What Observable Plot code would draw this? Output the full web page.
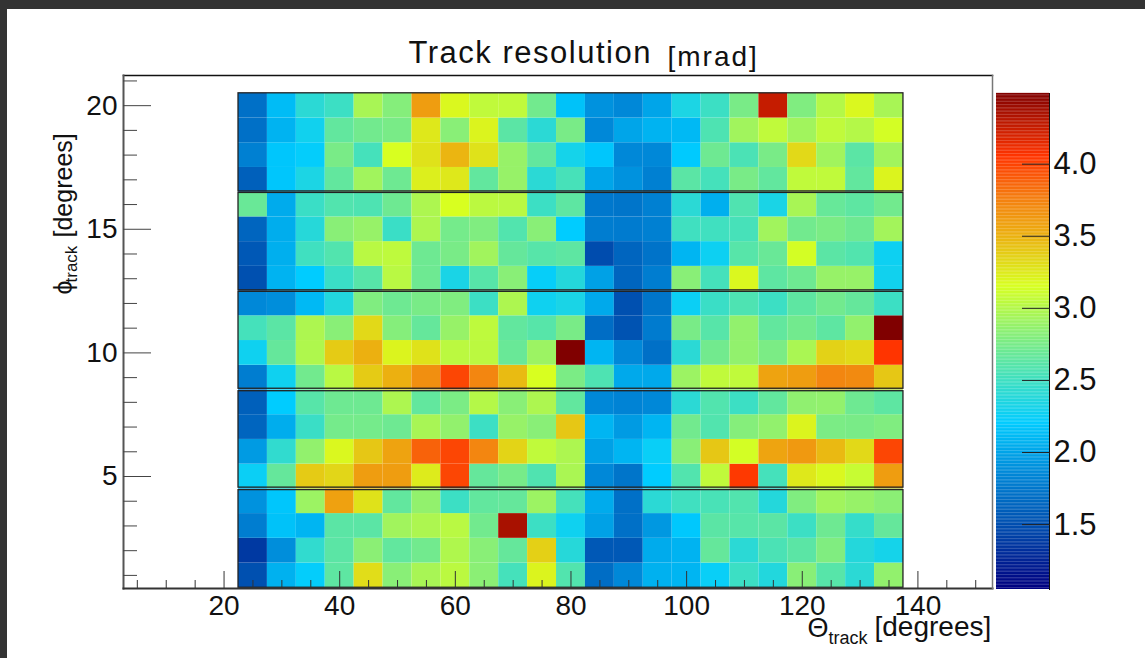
<!DOCTYPE html>
<html><head><meta charset="utf-8">
<script src="https://cdn.jsdelivr.net/npm/d3@7"></script>
<script src="https://cdn.jsdelivr.net/npm/@observablehq/plot@0.6"></script>
<style>
html,body{margin:0;padding:0;width:1145px;height:658px;overflow:hidden;background:#333;}
#paper{position:absolute;left:7px;top:9px;width:1138px;height:649px;background:#fff;}
#chart,#bar{position:absolute;top:0;}
#chart{left:0;}#bar{left:996px;}
svg{background:transparent !important;font-family:"Liberation Sans",Arial,sans-serif;}
.wide text{letter-spacing:1.5px;}
.wider text{letter-spacing:2px;}
</style></head><body>
<div id="paper"></div><div id="chart"></div><div id="bar"></div>
<script>
const thetaBins=[25,30,35,40,45,50,55,60,65,70,75,80,85,90,95,100,105,110,115,120,125,130,135];
const phi20=[1.7,2.12,2.4,2.48,2.95,2.8,3.6,3.18,3.05,3.05,2.72,2.15,1.9,1.85,2.0,2.33,2.48,2.75,4.25,2.78,3.0,3.18,2.95];
const phi19=[1.7,2.07,2.28,2.65,2.72,2.75,3.25,2.82,3.2,2.62,2.4,2.75,1.85,2.0,2.07,2.1,2.56,2.92,3.05,2.92,3.05,3.0,3.13];
const phi18=[1.8,2.17,2.22,2.75,2.52,3.15,3.28,3.48,3.28,2.88,2.65,2.3,2.17,1.85,1.85,2.19,2.7,2.55,2.75,3.32,2.92,2.62,2.92];
const phi17=[1.6,2.17,2.33,2.65,2.92,2.7,3.22,3.25,2.65,2.88,2.4,2.53,2.0,1.9,1.8,2.62,2.52,2.75,2.65,3.05,3.05,2.65,3.2];
const phi16=[2.68,2.03,2.47,2.58,2.56,2.7,2.97,3.15,3.03,3.02,2.48,2.63,1.75,1.73,1.8,2.4,2.05,2.57,2.32,2.95,2.67,2.63,2.72];
const phi15=[1.63,2.04,2.38,2.82,2.88,2.47,2.97,2.73,2.78,2.58,2.82,2.2,1.78,1.77,1.8,2.5,2.5,2.53,2.92,2.72,2.76,2.7,2.93];
const phi14=[1.55,2.05,2.5,2.58,3.02,3.04,2.7,2.75,2.92,2.66,2.6,2.63,1.48,1.63,1.72,2.08,2.26,2.6,2.68,3.13,2.62,2.58,2.26];
const phi13=[1.5,2.07,2.2,2.47,2.6,3.02,2.7,2.32,2.6,2.82,2.23,2.37,1.98,1.63,1.78,2.82,2.52,3.18,2.63,2.7,2.88,2.88,2.28];
const phi12=[1.85,1.88,2.1,2.36,2.78,2.7,2.75,2.78,2.48,2.97,2.27,2.32,2.02,1.5,1.73,2.25,2.47,2.56,2.48,2.63,2.72,2.66,2.48];
const phi11=[2.52,2.62,2.97,2.82,3.32,2.8,2.66,2.88,3.04,2.65,2.6,2.75,1.68,1.52,1.77,2.75,2.6,2.86,2.65,2.72,2.63,2.86,4.49];
const phi10=[2.27,2.66,2.98,3.38,3.5,3.2,3.28,3.03,3.03,2.68,2.9,4.49,2.08,1.85,1.7,2.4,2.72,2.86,2.76,2.96,3.35,3.32,4.05];
const phi9=[1.78,2.27,2.72,3.02,3.38,3.5,3.67,3.98,3.72,3.45,3.15,2.76,2.56,2.02,2.02,2.9,3.05,3.05,3.57,3.6,3.72,3.7,3.4];
const phi8=[1.6,2.2,2.6,2.7,2.7,2.97,2.65,2.76,3.0,2.82,2.97,2.65,1.85,1.82,1.85,2.4,2.58,2.48,2.65,2.85,2.86,2.7,2.63];
const phi7=[1.63,2.04,2.47,2.73,2.73,2.7,2.95,2.86,2.48,2.88,2.82,3.4,2.08,1.95,2.08,2.72,2.58,2.8,2.86,3.2,2.76,2.75,2.78];
const phi6=[1.95,2.43,2.86,3.18,3.4,3.57,3.87,3.98,3.72,3.34,3.05,2.97,1.98,2.08,2.24,2.82,3.4,3.13,3.56,3.62,3.46,3.32,3.98];
const phi5=[2.25,2.66,3.38,3.33,3.6,3.6,3.24,3.98,2.66,2.74,2.57,2.96,1.85,1.73,2.2,2.58,3.05,4.03,2.52,3.25,3.18,3.08,3.6];
const phi4=[1.9,2.17,2.9,3.58,3.28,2.65,2.86,2.48,2.65,2.66,2.9,2.52,2.03,1.7,2.4,2.5,2.54,2.58,2.37,2.78,2.92,2.88,2.83];
const phi3=[1.78,2.15,2.08,2.62,2.62,2.92,2.97,3.02,2.72,4.35,2.48,2.27,1.98,1.7,1.93,2.18,2.62,2.6,2.62,2.48,2.7,2.45,2.66];
const phi2=[1.37,1.88,2.43,2.62,2.83,2.65,2.72,2.98,2.82,2.66,3.36,2.38,1.55,1.55,2.03,2.07,2.66,2.4,2.55,2.62,2.78,2.37,2.3];
const phi1=[1.5,2.06,2.22,2.63,3.3,2.82,2.95,3.03,2.83,2.52,3.2,2.58,1.68,1.85,2.06,2.08,2.24,2.48,2.36,2.82,2.6,2.4,2.86];
const rows=[phi1,phi2,phi3,phi4,phi5,phi6,phi7,phi8,phi9,phi10,phi11,phi12,phi13,phi14,phi15,phi16,phi17,phi18,phi19,phi20];
const sectors=[[0.5,4.45],[4.55,8.45],[8.55,12.47],[12.53,16.47],[16.53,20.5]];
const xMajor=[20,40,60,80,100,120,140];
const xMinor=[5,10,15,25,30,35,45,50,55,65,70,75,85,90,95,105,110,115,125,130,135,145,150];
const yMajor=[5,10,15,20];
const yMinor=[1,2,3,4,6,7,8,9,11,12,13,14,16,17,18,19,21];
const colorStops=[1.05,1.5,1.85,2.2,2.5,2.85,3.15,3.5,3.75,4.05,4.49];
const colorRange=["#000080","#0050b0","#0088d8","#00ccff","#40e0c0","#90f070","#d8ff20","#ecb010","#f48010","#ff3400","#800000"];
const barTicks=[1.5,2,2.5,3,3.5,4];
const barLevels=d3.range(1.05,4.48,0.01);

const cells=rows.flatMap((r,i)=>r.map((v,j)=>({theta:thetaBins[j],phi:i+1,v})));
const color={type:"linear",domain:colorStops,range:colorRange,clamp:true};
const FS=28;

const chart=Plot.plot({
  width:1145,height:658,
  marginLeft:123,marginRight:153,marginTop:75,marginBottom:70,
  style:{background:"transparent",fontFamily:"Liberation Sans,Arial,sans-serif",overflow:"visible"},
  x:{domain:[2.61,152.9],label:null},
  y:{domain:[0.47,21.22],label:null},
  color,
  marks:[
    Plot.rect(cells,{x1:d=>d.theta-2.5,x2:d=>d.theta+2.5,y1:d=>d.phi-0.5,y2:d=>d.phi+0.5,fill:"v"}),
    Plot.rect(sectors,{x1:22.5,x2:137.5,y1:d=>d[0],y2:d=>d[1],stroke:"#222",strokeWidth:1.3,fill:"none"}),
    Plot.frame({anchor:"top",stroke:"#111",strokeWidth:1.5}),
    Plot.frame({anchor:"left",stroke:"#555",strokeWidth:2}),
    Plot.frame({anchor:"bottom",stroke:"#333",strokeWidth:2}),
    Plot.frame({anchor:"right",stroke:"#777",strokeWidth:1.5}),
    Plot.axisX({ticks:xMajor,tickSize:-17,text:null,label:null,stroke:"#333"}),
    Plot.axisX({ticks:xMinor,tickSize:-8,text:null,label:null,stroke:"#333"}),
    Plot.axisY({ticks:yMajor,tickSize:-28,text:null,label:null,stroke:"#444"}),
    Plot.axisY({ticks:yMinor,tickSize:-14,text:null,label:null,stroke:"#444"}),
    Plot.text(xMajor,{x:d=>d,frameAnchor:"bottom",dy:26,text:d=>String(d),fontSize:FS,fill:"#111"}),
    Plot.text(yMajor,{y:d=>d,frameAnchor:"left",dx:-6,textAnchor:"end",text:d=>String(d),fontSize:FS,fill:"#111"}),
    Plot.text(["Track resolution"],{className:"wide",frameAnchor:"top-left",dx:285,dy:-22,fontSize:31,textAnchor:"start",lineAnchor:"middle",fill:"#111"}),
    Plot.text(["[mrad]"],{className:"wider",frameAnchor:"top-left",dx:544,dy:-18,fontSize:28,textAnchor:"start",lineAnchor:"middle",fill:"#111"}),
    Plot.text(["\u0398"],{frameAnchor:"bottom-left",dx:684,dy:40,fontSize:27,textAnchor:"start",lineAnchor:"middle",fill:"#111"}),
    Plot.text(["track"],{frameAnchor:"bottom-left",dx:705,dy:50,fontSize:18,textAnchor:"start",lineAnchor:"middle",fill:"#111"}),
    Plot.text(["[degrees]"],{frameAnchor:"bottom-left",dx:751,dy:39,fontSize:28,textAnchor:"start",lineAnchor:"middle",fill:"#111"}),
    Plot.text(["\u03d5"],{frameAnchor:"top-left",dx:-60,dy:219,fontSize:25,rotate:-90,textAnchor:"start",lineAnchor:"middle",fill:"#111"}),
    Plot.text(["track"],{frameAnchor:"top-left",dx:-52,dy:207,fontSize:17,rotate:-90,textAnchor:"start",lineAnchor:"middle",fill:"#111"}),
    Plot.text(["[degrees]"],{frameAnchor:"top-left",dx:-60,dy:162,fontSize:25,rotate:-90,textAnchor:"start",lineAnchor:"middle",fill:"#111"})
  ]
});
document.getElementById("chart").append(chart);

const bar=Plot.plot({
  width:149,height:658,
  marginLeft:0,marginRight:96,marginTop:93,marginBottom:69,
  style:{background:"transparent",fontFamily:"Liberation Sans,Arial,sans-serif",overflow:"visible"},
  x:{domain:[0,1],axis:null},
  y:{domain:[1.05,4.49],label:null},
  color,
  marks:[
    Plot.rect(barLevels,{x1:0,x2:1,y1:d=>d,y2:d=>d+0.011,fill:d=>d}),
    Plot.frame({anchor:"right",stroke:"#111",strokeWidth:1}),
    Plot.axisY({anchor:"right",ticks:barTicks,tickSize:-28,text:null,label:null,stroke:"#222"}),
    Plot.text(barTicks,{y:d=>d,frameAnchor:"right",dx:4,textAnchor:"start",text:d=>d.toFixed(1),fontSize:31,fill:"#111"})
  ]
});
document.getElementById("bar").append(bar);
</script></body></html>
